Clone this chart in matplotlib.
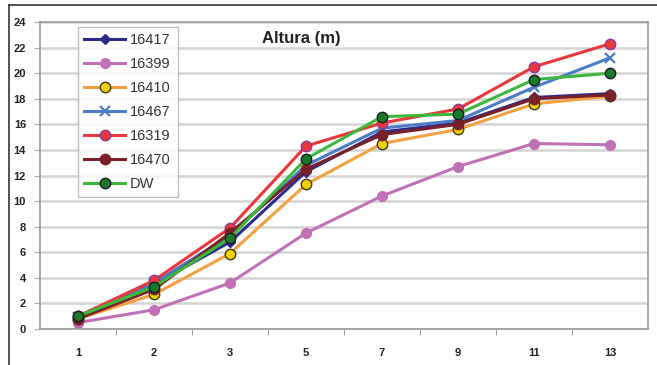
import matplotlib
matplotlib.use("Agg")
import matplotlib.pyplot as plt
from matplotlib.lines import Line2D

plt.rcParams['font.family'] = ['Liberation Sans', 'DejaVu Sans']

categories = ["1", "2", "3", "5", "7", "9", "11", "13"]
s16417 = [0.9, 3.5, 6.8, 12.3, 15.4, 16.1, 18.1, 18.4]
s16399 = [0.5, 1.5, 3.6, 7.5, 10.4, 12.7, 14.5, 14.4]
s16410 = [0.8, 2.7, 5.9, 11.3, 14.5, 15.6, 17.6, 18.2]
s16467 = [0.9, 3.6, 7.3, 12.8, 15.7, 16.3, 18.9, 21.2]
s16319 = [1.0, 3.8, 7.9, 14.3, 16.1, 17.2, 20.5, 22.3]
s16470 = [0.8, 3.1, 7.5, 12.5, 15.2, 16.0, 18.0, 18.3]
sDW = [1.0, 3.3, 7.1, 13.3, 16.6, 16.8, 19.5, 20.0]
yticks = list(range(0, 25, 2))
title = "Altura (m)"

series = [
    ("16417", s16417, dict(color="#2e2a88", marker="D", ms=5, mfc="#2e2a88", mec="#2e2a88")),
    ("16399", s16399, dict(color="#c070b8", marker="o", ms=7, mfc="#c070b8", mec="#c070b8")),
    ("16410", s16410, dict(color="#f5a040", marker="o", ms=7.5, mfc="#f2d000", mec="#3a3a1a")),
    ("16467", s16467, dict(color="#4a7cc8", marker="x", ms=7.5, mfc="#4a7cc8", mec="#4a7cc8", mew=1.6)),
    ("16319", s16319, dict(color="#e8383c", marker="o", ms=7.5, mfc="#e8383c", mec="#8a3a9a")),
    ("16470", s16470, dict(color="#7a2028", marker="o", ms=7.5, mfc="#7a2028", mec="#7a2028")),
    ("DW", sDW, dict(color="#3cb83c", marker="o", ms=7.5, mfc="#1a7a2a", mec="#1a1a1a")),
]

fig = plt.figure(figsize=(6.57, 3.65), dpi=100)
ax = fig.add_axes([40/657, 1-329/365, 608/657, 307/365])

x = list(range(len(categories)))
for name, vals, st in series:
    ax.plot(x, vals, lw=2.2, label=name, **st)

ax.set_xlim(-0.5, len(categories)-0.5)
ax.set_ylim(0, 24)
ax.set_yticks(yticks)
ax.set_yticklabels([str(v) for v in yticks])
ax.set_xticks(x)
ax.set_xticklabels(categories)
ax.set_xticks([i + 0.5 for i in x[:-1]], minor=True)
ax.tick_params(axis='x', which='major', length=0, pad=14, labelsize=8, colors="#222222")
ax.tick_params(axis='x', which='minor', length=4, color="#888888", direction="out")
ax.tick_params(axis='y', length=4, color="#aaaaaa", labelsize=8, colors="#222222", pad=6)
for lbl in ax.get_xticklabels() + ax.get_yticklabels():
    lbl.set_fontweight("bold")
ax.grid(axis='y', color="#d4d4d4", lw=1.8)
ax.set_axisbelow(True)
for sp in ax.spines.values():
    sp.set_color("#9a9a9a")
    sp.set_linewidth(1.2)

ax.text(0.43, 0.945, title, transform=ax.transAxes, ha="center", va="center",
        fontsize=12, fontweight="bold", color="#222222")

leg = ax.legend(loc="upper left", bbox_to_anchor=(0.062, 0.985), fontsize=10.5,
                frameon=True, fancybox=False, edgecolor="#b0b0b0", handlelength=2.8,
                labelspacing=0.68, borderpad=0.45, handletextpad=0.35, borderaxespad=0)
leg.get_frame().set_linewidth(1.0)
for t in leg.get_texts():
    t.set_color("#333333")

fig.add_artist(Line2D([9/657, 1.0], [1-5/365, 1-5/365], color="#333333", lw=1.2))
fig.add_artist(Line2D([9/657, 9/657], [0, 1-5/365], color="#333333", lw=1.2))

fig.savefig("out.png", dpi=100)
